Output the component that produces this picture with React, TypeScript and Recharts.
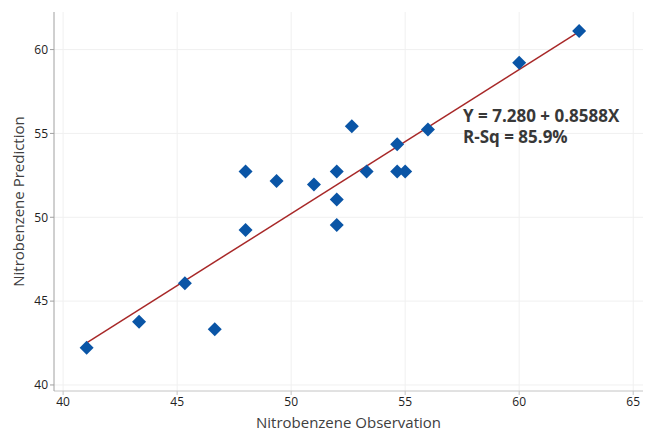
import React from "react";
import { ScatterChart, Scatter, XAxis, YAxis, CartesianGrid, ReferenceLine, Label } from "recharts";

const observation = [41.03, 43.33, 45.34, 46.65, 48.0, 48.0, 49.36, 51.0, 52.0, 52.0, 52.0, 52.66, 53.31, 54.65, 54.65, 55.0, 56.0, 60.0, 62.63];
const prediction = [42.22, 43.77, 46.06, 43.32, 49.24, 52.73, 52.16, 51.96, 52.73, 51.06, 49.54, 55.43, 52.73, 54.36, 52.73, 52.73, 55.24, 59.21, 61.11];
const xTicks = [40, 45, 50, 55, 60, 65];
const yTicks = [40, 45, 50, 55, 60];
const intercept = 7.28;
const slope = 0.8588;
const equationLines = ["Y = 7.280 + 0.8588X", "R-Sq = 85.9%"];

const data = observation.map((x, i) => ({ x, y: prediction[i] }));
const xMin = Math.min(...observation);
const xMax = Math.max(...observation);

const FONT = "'Segoe UI', 'Open Sans', 'Noto Sans', sans-serif";

const Diamond = (props: any) => {
  const { cx, cy } = props;
  const r = 7;
  return (
    <polygon
      points={`${cx},${cy - r} ${cx + r},${cy} ${cx},${cy + r} ${cx - r},${cy}`}
      fill="#0a55a6"
    />
  );
};

export default function App() {
  return (
    <div style={{ position: "absolute", left: 0, top: 0, width: 649, height: 432, background: "#fff", fontFamily: FONT }}>
      <ScatterChart width={649} height={432} margin={{ top: 12, right: 6, bottom: 0, left: 0 }}>
        <CartesianGrid stroke="#f0f0f0" horizontalValues={yTicks} verticalValues={xTicks} />
        <XAxis
          type="number"
          dataKey="x"
          domain={[39.6, 65.43]}
          ticks={xTicks}
          height={41}
          tickSize={4}
          stroke="#c4c4c4"
          tick={{ fill: "#222", fontSize: 12, fontFamily: FONT }}
          allowDataOverflow
        >
          <Label value="Nitrobenzene Observation" position="insideBottom" offset={4} style={{ fill: "#404040", fontSize: 15, fontFamily: FONT }} />
        </XAxis>
        <YAxis
          type="number"
          dataKey="y"
          domain={[39.64, 62.24]}
          ticks={yTicks}
          width={54}
          tickSize={4}
          stroke="#a0a0a0"
          tick={{ fill: "#222", fontSize: 12, fontFamily: FONT }}
          allowDataOverflow
        >
          <Label value="Nitrobenzene Prediction" angle={-90} position="insideLeft" offset={19} style={{ fill: "#404040", fontSize: 15, fontFamily: FONT, textAnchor: "middle" }} />
        </YAxis>
        <ReferenceLine
          segment={[
            { x: xMin, y: intercept + slope * xMin },
            { x: xMax, y: intercept + slope * xMax },
          ]}
          stroke="#a82828"
          strokeWidth={1.5}
        />
        <Scatter data={data} shape={<Diamond />} isAnimationActive={false} />
      </ScatterChart>
      <div style={{ position: "absolute", left: 463, top: 105, fontSize: 17, fontWeight: 700, color: "#383838", lineHeight: "21px", fontFamily: FONT, whiteSpace: "nowrap" }}>
        {equationLines.map((t) => (
          <div key={t} style={{ height: 21 }}>{t}</div>
        ))}
      </div>
    </div>
  );
}
